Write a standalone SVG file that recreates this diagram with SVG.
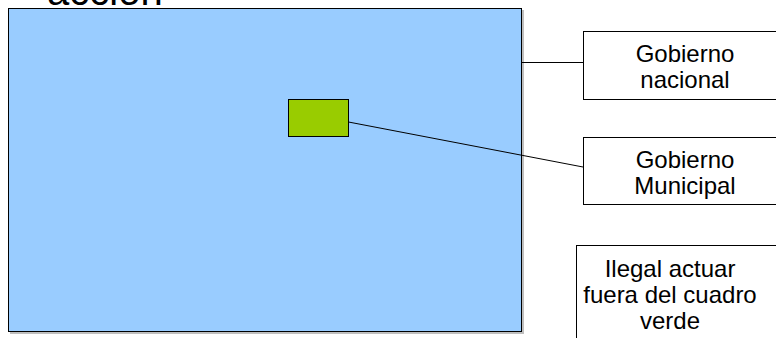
<svg xmlns="http://www.w3.org/2000/svg" width="776" height="338" viewBox="0 0 776 338">
<style>
text{font-family:"Liberation Sans",Arial,sans-serif;fill:#000}
.lbl{font-size:24px;text-anchor:middle}
.box{fill:#fff;stroke:#000;stroke-width:1}
.conn{stroke:#000;stroke-width:1;fill:none}
</style>
<rect width="776" height="338" fill="#fff"/>
<text x="47" y="5" style="font-size:40px">acción</text>
<g id="area">
<rect x="10" y="10" width="514" height="324" fill="#808080" opacity="0.5"/>
<rect x="8.5" y="8.5" width="513" height="323" fill="#99ccff" stroke="#000" stroke-width="1"/>
</g>
<g id="verde">
<rect x="288.5" y="99.5" width="60" height="37" fill="#99cc00" stroke="#000" stroke-width="1"/>
</g>
<g id="connectors">
<line class="conn" x1="522" y1="62.5" x2="583" y2="62.5"/>
<line class="conn" x1="348.5" y1="122" x2="583" y2="167"/>
</g>
<g id="nacional">
<rect class="box" x="583.5" y="31.5" width="205" height="68"/>
<text class="lbl" x="685" y="62">Gobierno</text>
<text class="lbl" x="685" y="88">nacional</text>
</g>
<g id="municipal">
<rect class="box" x="583.5" y="137.5" width="205" height="67"/>
<text class="lbl" x="685" y="168">Gobierno</text>
<text class="lbl" x="685" y="194">Municipal</text>
</g>
<g id="ilegal">
<rect class="box" x="576.5" y="245.5" width="210" height="100"/>
<text class="lbl" x="670" y="277">Ilegal actuar</text>
<text class="lbl" x="670" y="303">fuera del cuadro</text>
<text class="lbl" x="670" y="329">verde</text>
</g>
</svg>
